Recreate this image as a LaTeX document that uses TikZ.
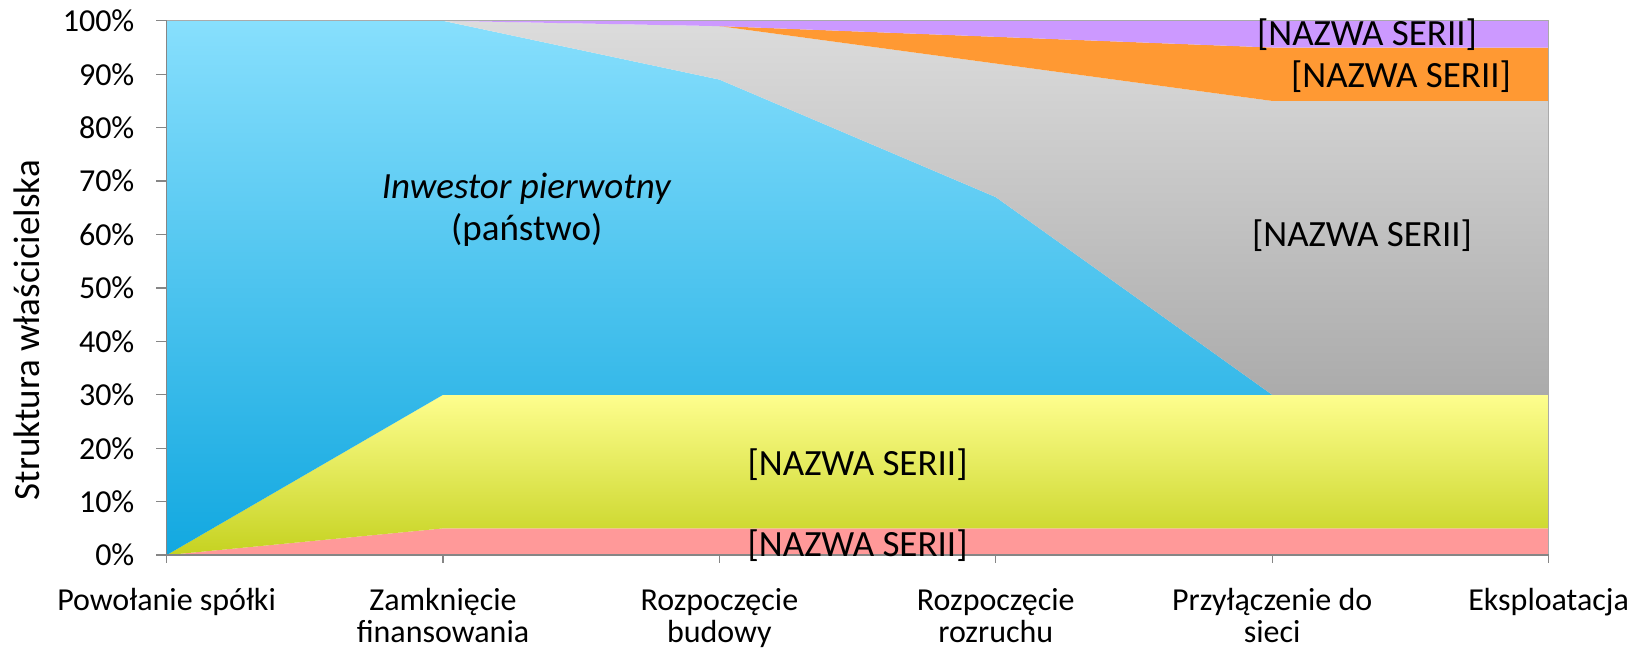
\documentclass[tikz,border=0pt]{standalone}
\usepackage{fontspec}
\setmainfont{Carlito}
\usepackage{tikz}
\definecolor{axisgray}{HTML}{868686}
\definecolor{bluetop}{HTML}{87DFFD}
\definecolor{bluebot}{HTML}{12A8E0}
\definecolor{yeltop}{HTML}{FEFE8E}
\definecolor{yelbot}{HTML}{C5D220}
\definecolor{graytop}{HTML}{DCDCDC}
\definecolor{graybot}{HTML}{ABABAB}
\definecolor{pinkfill}{HTML}{FF9999}
\definecolor{orangefill}{HTML}{FF9933}
\definecolor{purplefill}{HTML}{CC99FF}

\begin{document}
\begin{tikzpicture}[x=276.4pt,y=5.343pt,
        axisline/.style={axisgray,line width=1.3pt},
        ticklbl/.style={font=\fontsize{32}{32}\selectfont,text=black,inner sep=0pt},
        serieslbl/.style={font=\fontsize{37}{42}\selectfont,text=black,inner sep=0pt}]
        \useasboundingbox (-166.6pt,-93.9pt) rectangle (1466.4pt,555.1pt);
        \fill[pinkfill] (0,0) -- (1,5) -- (5,5) -- (5,0) -- cycle;
        \shade[top color=yeltop,bottom color=yelbot] (0,0) -- (1,30) -- (5,30) -- (5,5) -- (1,5) -- cycle;
        \shade[top color=bluetop,bottom color=bluebot] (0,0) -- (0,100) -- (1,100) -- (2,89) -- (3,67) -- (4,30) -- (1,30) -- cycle;
        \shade[top color=graytop,bottom color=graybot] (1,100) -- (2,99) -- (3,92) -- (4,85) -- (5,85) -- (5,30) -- (4,30) -- (3,67) -- (2,89) -- cycle;
        \fill[orangefill] (2,99) -- (3,97) -- (4,95) -- (5,95) -- (5,85) -- (4,85) -- (3,92) -- cycle;
        \fill[purplefill] (1,100) -- (5,100) -- (5,95) -- (4,95) -- (3,97) -- (2,99) -- cycle;
        \draw[axisgray!70,line width=1pt] (0,100) -- (5,100) -- (5,0);
        \draw[axisline] (0,100) -- (0,0) -- (5,0);
        \foreach \p in {0,10,...,100}
            \draw[axisline] (-0.0373,\p) -- (0,\p) node[ticklbl,anchor=east] (ylab\p) at (-0.1143,\p) {\p\%};
        \foreach \i/\t in {0/Powołanie spółki,1/Zamknięcie\\finansowania,2/Rozpoczęcie\\budowy,3/Rozpoczęcie\\rozruchu,4/Przyłączenie do\\sieci,5/Eksploatacja}
            \draw[axisline] (\i,0) -- (\i,-1.57) node[ticklbl,anchor=north,align=center] (xlab\i) at (\i,-6.16) {\t};
        \node[serieslbl,rotate=90] (ytitle) at (-0.506,42.1) {Struktura właścicielska};
        \node[serieslbl,anchor=base] (inwestor) at (1.303,66.78) {\textit{Inwestor pierwotny}};
        \node[serieslbl,anchor=base] (panstwo) at (1.303,58.97) {(państwo)};
        \node[serieslbl] (grayname) at (4.325,59.7) {[NAZWA SERII]};
        \node[serieslbl] (purplename) at (4.343,97.5) {[NAZWA SERII]};
        \node[serieslbl] (orangename) at (4.466,89.5) {[NAZWA SERII]};
        \node[serieslbl] (yellowname) at (2.5,16.9) {[NAZWA SERII]};
        \node[serieslbl] (pinkname) at (2.5,1.7) {[NAZWA SERII]};
    \end{tikzpicture}
\end{document}
